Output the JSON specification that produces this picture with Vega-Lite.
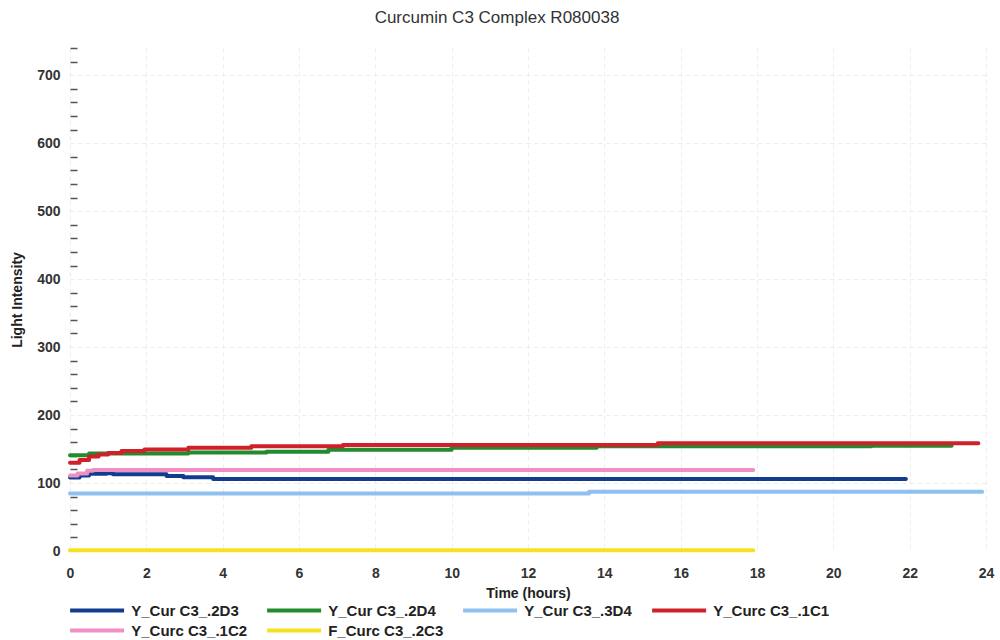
{
  "$schema": "https://vega.github.io/schema/vega-lite/v6.json",
  "width": 916,
  "height": 503,
  "autosize": {"type": "none"},
  "padding": {"left": 70, "top": 48, "right": 14, "bottom": 89},
  "background": "white",
  "title": {
    "text": "Curcumin C3 Complex R080038",
    "fontSize": 17,
    "fontWeight": "normal",
    "font": "Liberation Sans",
    "color": "#333333",
    "anchor": "middle",
    "dx": -31,
    "offset": 20
  },
  "config": {
    "view": {"stroke": null},
    "font": "Liberation Sans"
  },
  "data": {
    "values": [
      {"series": "Y_Cur C3_.2D3", "t": 0, "v": 108},
      {"series": "Y_Cur C3_.2D3", "t": 0.25, "v": 111},
      {"series": "Y_Cur C3_.2D3", "t": 0.5, "v": 113.5},
      {"series": "Y_Cur C3_.2D3", "t": 0.96, "v": 114.5},
      {"series": "Y_Cur C3_.2D3", "t": 1.13, "v": 113},
      {"series": "Y_Cur C3_.2D3", "t": 2.53, "v": 110.5},
      {"series": "Y_Cur C3_.2D3", "t": 2.97, "v": 108.5},
      {"series": "Y_Cur C3_.2D3", "t": 3.75, "v": 106},
      {"series": "Y_Cur C3_.2D3", "t": 21.9, "v": 106},
      {"series": "Y_Cur C3_.2D4", "t": 0, "v": 141},
      {"series": "Y_Cur C3_.2D4", "t": 0.5, "v": 143.5},
      {"series": "Y_Cur C3_.2D4", "t": 3.1, "v": 145},
      {"series": "Y_Cur C3_.2D4", "t": 5.15, "v": 146},
      {"series": "Y_Cur C3_.2D4", "t": 6.77, "v": 149},
      {"series": "Y_Cur C3_.2D4", "t": 10.0, "v": 152},
      {"series": "Y_Cur C3_.2D4", "t": 13.8, "v": 154},
      {"series": "Y_Cur C3_.2D4", "t": 21.0, "v": 155},
      {"series": "Y_Cur C3_.2D4", "t": 23.1, "v": 155},
      {"series": "Y_Cur C3_.3D4", "t": 0, "v": 84.5},
      {"series": "Y_Cur C3_.3D4", "t": 13.6, "v": 87},
      {"series": "Y_Cur C3_.3D4", "t": 23.9, "v": 87},
      {"series": "Y_Curc C3_.1C1", "t": 0, "v": 130},
      {"series": "Y_Curc C3_.1C1", "t": 0.25, "v": 134},
      {"series": "Y_Curc C3_.1C1", "t": 0.5, "v": 139},
      {"series": "Y_Curc C3_.1C1", "t": 0.75, "v": 142},
      {"series": "Y_Curc C3_.1C1", "t": 1.0, "v": 144},
      {"series": "Y_Curc C3_.1C1", "t": 1.35, "v": 147},
      {"series": "Y_Curc C3_.1C1", "t": 1.95, "v": 149.5},
      {"series": "Y_Curc C3_.1C1", "t": 3.1, "v": 152},
      {"series": "Y_Curc C3_.1C1", "t": 4.75, "v": 154},
      {"series": "Y_Curc C3_.1C1", "t": 7.15, "v": 156},
      {"series": "Y_Curc C3_.1C1", "t": 15.4, "v": 158.5},
      {"series": "Y_Curc C3_.1C1", "t": 23.8, "v": 158.5},
      {"series": "Y_Curc C3_.1C2", "t": 0, "v": 111},
      {"series": "Y_Curc C3_.1C2", "t": 0.2, "v": 114},
      {"series": "Y_Curc C3_.1C2", "t": 0.45, "v": 118},
      {"series": "Y_Curc C3_.1C2", "t": 0.6, "v": 119},
      {"series": "Y_Curc C3_.1C2", "t": 17.9, "v": 119},
      {"series": "F_Curc C3_.2C3", "t": 0, "v": 1},
      {"series": "F_Curc C3_.2C3", "t": 17.9, "v": 1}
    ]
  },
  "mark": {"type": "line", "interpolate": "step-after", "strokeWidth": 4, "strokeCap": "round", "strokeJoin": "round"},
  "encoding": {
    "x": {
      "field": "t",
      "type": "quantitative",
      "scale": {"domain": [0, 24], "nice": false, "zero": false},
      "axis": {
        "title": "Time (hours)",
        "values": [0, 2, 4, 6, 8, 10, 12, 14, 16, 18, 20, 22, 24],
        "domain": false,
        "ticks": false,
        "labelFont": "Liberation Sans",
        "labelFontSize": 14,
        "labelFontWeight": "bold",
        "labelColor": "#333333",
        "labelPadding": 15,
        "labelFlush": false,
        "titleFont": "Liberation Sans",
        "titleFontSize": 14,
        "titleFontWeight": "bold",
        "titleColor": "#222222",
        "titlePadding": 6,
        "grid": true,
        "gridColor": "#ebebeb",
        "gridDash": [4, 4],
        "gridWidth": 1
      }
    },
    "y": {
      "field": "v",
      "type": "quantitative",
      "scale": {"domain": [0, 740], "nice": false},
      "axis": {
        "title": "Light Intensity",
        "values": [0, 20, 40, 60, 80, 100, 120, 140, 160, 180, 200, 220, 240, 260, 280, 300, 320, 340, 360, 380, 400, 420, 440, 460, 480, 500, 520, 540, 560, 580, 600, 620, 640, 660, 680, 700, 720, 740],
        "labelExpr": "datum.value % 100 === 0 ? datum.label : ''",
        "domain": false,
        "tickSize": -7,
        "tickColor": "#555555",
        "tickWidth": 1.5,
        "tickOpacity": {"condition": {"test": "datum.value % 100 === 0", "value": 0}, "value": 1},
        "labelFont": "Liberation Sans",
        "labelFontSize": 14,
        "labelFontWeight": "bold",
        "labelColor": "#333333",
        "labelPadding": 17,
        "titleFont": "Liberation Sans",
        "titleFontSize": 14,
        "titleFontWeight": "bold",
        "titleColor": "#222222",
        "titlePadding": 12,
        "grid": true,
        "gridColor": "#ebebeb",
        "gridDash": [4, 4],
        "gridOpacity": {"condition": {"test": "datum.value % 100 === 0 && datum.value > 0", "value": 1}, "value": 0}
      }
    },
    "color": {
      "field": "series",
      "type": "nominal",
      "sort": null,
      "scale": {
        "domain": ["Y_Cur C3_.2D3", "Y_Cur C3_.2D4", "Y_Cur C3_.3D4", "Y_Curc C3_.1C1", "Y_Curc C3_.1C2", "F_Curc C3_.2C3"],
        "range": ["#123d8f", "#228b2e", "#90c0f0", "#d0202a", "#ef8fc4", "#f3e21e"]
      },
      "legend": {
        "title": null,
        "orient": "none",
        "legendX": 19.6,
        "legendY": 555,
        "direction": "horizontal",
        "columns": 4,
        "gridAlign": "none",
        "columnPadding": 11,
        "rowPadding": 3,
        "symbolType": "M-5,0H5",
        "symbolSize": 116.6,
        "symbolStrokeWidth": 4,
        "labelOffset": 26.6,
        "labelFont": "Liberation Sans",
        "labelFontSize": 15,
        "labelFontWeight": "bold",
        "labelColor": "#222222",
        "labelLimit": 300
      }
    }
  }
}
